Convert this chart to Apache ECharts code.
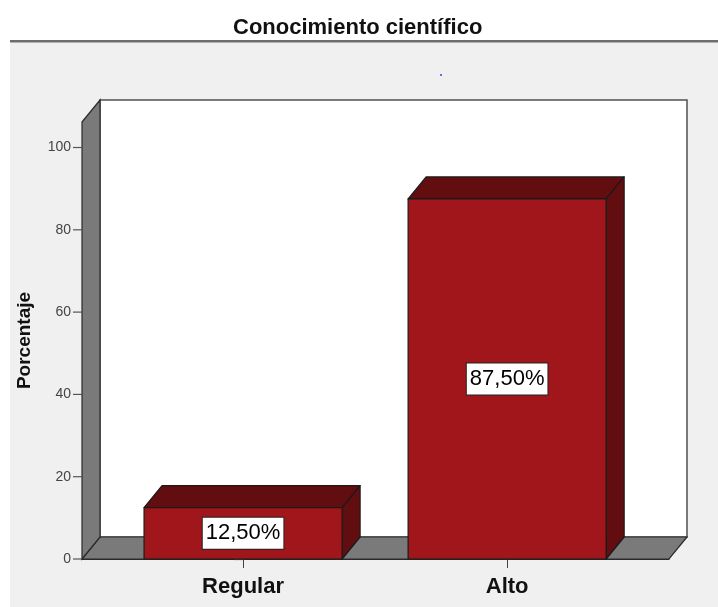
<!DOCTYPE html>
<html>
<head>
<meta charset="utf-8">
<script src="https://cdn.jsdelivr.net/npm/echarts@6/dist/echarts.min.js"></script>
<style>
html,body{margin:0;padding:0;background:#fff;}
#c{width:718px;height:607px;}
</style>
</head>
<body>
<div id="c"></div>
<script>
const categories = ['Regular', 'Alto'];
const percentValues = [12.5, 87.5];
const yTicks = [0, 20, 40, 60, 80, 100];
const titleText = 'Conocimiento científico';
const yAxisTitle = 'Porcentaje';

const DX = 18, DY = -22;      // 3D depth offset (px)
const HW = 0.375;             // bar half width in category units
const XMIN = -0.61, XMAX = 1.613, YMAX = 106.2;
const TICK_LEN = 9;

const chart = echarts.init(document.getElementById('c'));

const fmt = v => v.toFixed(2).replace('.', ',') + '%';

const option = {
  backgroundColor: '#ffffff',
  animation: false,
  title: {
    text: titleText,
    left: 228, top: 12,
    textStyle: { fontFamily: 'Arial, Liberation Sans', fontSize: 22, fontWeight: 'bold', color: '#111' }
  },
  graphic: [
    { type: 'rect', shape: { x: 10, y: 41, width: 708, height: 566 }, style: { fill: '#f0f0f0' }, z: -10 },
    { type: 'line', shape: { x1: 10, y1: 41, x2: 718, y2: 41 }, style: { stroke: '#6e6e6e', lineWidth: 2 }, z: -9 },
    { type: 'line', shape: { x1: 10, y1: 42.5, x2: 718, y2: 42.5 }, style: { stroke: '#b0b0b0', lineWidth: 1 }, z: -9 },
    { type: 'circle', shape: { cx: 441, cy: 75, r: 1 }, style: { fill: '#3040ff' }, z: -8 }
  ],
  grid: { left: 82, right: 49, top: 122, bottom: 48 },
  xAxis: {
    type: 'value', min: XMIN, max: XMAX,
    splitLine: { show: false },
    axisLine: { show: true, lineStyle: { color: '#2a2a2a', width: 1.2 } },
    axisTick: { show: true, customValues: [0, 1], length: TICK_LEN, lineStyle: { color: '#444', width: 1 } },
    axisLabel: {
      customValues: [0, 1],
      formatter: v => categories[Math.round(v)],
      margin: 17,
      fontFamily: 'Arial, Liberation Sans', fontSize: 22, fontWeight: 'bold', color: '#111'
    }
  },
  yAxis: {
    type: 'value', min: 0, max: YMAX,
    name: yAxisTitle, nameLocation: 'middle', nameRotate: 90, nameGap: 48,
    nameTextStyle: { fontFamily: 'Arial, Liberation Sans', fontSize: 19, fontWeight: 'bold', color: '#111' },
    splitLine: { show: false },
    axisLine: { show: true, lineStyle: { color: '#2a2a2a', width: 1.2 } },
    axisTick: { show: true, customValues: yTicks, length: TICK_LEN, lineStyle: { color: '#555', width: 1.2 } },
    axisLabel: {
      customValues: yTicks, margin: 11,
      fontFamily: 'Arial, Liberation Sans', fontSize: 14, color: '#444'
    }
  },
  series: [
    {
      type: 'custom', z: 1, silent: true, clip: false,
      data: [[0]],
      renderItem: function (params, api) {
        const bl = api.coord([XMIN, 0]);
        const br = api.coord([XMAX, 0]);
        const tl = api.coord([XMIN, YMAX]);
        const tr = api.coord([XMAX, YMAX]);
        const ticks = yTicks.map(t => {
          const p = api.coord([XMIN, t]);
          return { type: 'line', shape: { x1: p[0] - TICK_LEN, y1: p[1], x2: p[0], y2: p[1] },
                   style: { stroke: '#555', lineWidth: 1.2 } };
        });
        return {
          type: 'group',
          children: [
            { type: 'rect', shape: { x: tl[0] + DX, y: tl[1] + DY, width: tr[0] - tl[0], height: bl[1] - tl[1] },
              style: { fill: '#ffffff', stroke: '#505050', lineWidth: 1.5 } },
            { type: 'polygon', shape: { points: [[bl[0], bl[1]], [bl[0] + DX, bl[1] + DY], [br[0] + DX, br[1] + DY], [br[0], br[1]]] },
              style: { fill: '#7a7a7a', stroke: '#2a2a2a', lineWidth: 1.2 } },
            { type: 'polygon', shape: { points: [[tl[0], tl[1]], [tl[0] + DX, tl[1] + DY], [bl[0] + DX, bl[1] + DY], [bl[0], bl[1]]] },
              style: { fill: '#7a7a7a', stroke: '#2a2a2a', lineWidth: 1.2 } }
          ].concat(ticks)
        };
      }
    },
    {
      type: 'custom', z: 2, silent: true, clip: false,
      data: percentValues.map((v, i) => [i, v]),
      renderItem: function (params, api) {
        const x = api.value(0), v = api.value(1);
        const tl = api.coord([x - HW, v]);
        const br = api.coord([x + HW, 0]);
        const w = br[0] - tl[0], h = br[1] - tl[1];
        const edge = { stroke: '#1a1a1a', lineWidth: 1.2, lineJoin: 'round' };
        return {
          type: 'group',
          children: [
            { type: 'polygon', shape: { points: [[tl[0], tl[1]], [tl[0] + DX, tl[1] + DY], [br[0] + DX, tl[1] + DY], [br[0], tl[1]]] },
              style: Object.assign({ fill: '#620d0f' }, edge) },
            { type: 'polygon', shape: { points: [[br[0], tl[1]], [br[0] + DX, tl[1] + DY], [br[0] + DX, br[1] + DY], [br[0], br[1]]] },
              style: Object.assign({ fill: '#620d0f' }, edge) },
            { type: 'rect', shape: { x: tl[0], y: tl[1], width: w, height: h },
              style: Object.assign({ fill: '#a0161a' }, edge) },
            { type: 'text', x: tl[0] + w / 2, y: tl[1] + h / 2,
              style: {
                text: fmt(v), align: 'center', verticalAlign: 'middle',
                font: '22px Arial, "Liberation Sans"', fill: '#000',
                backgroundColor: '#ffffff', borderColor: '#222', borderWidth: 1,
                padding: [5, 3, 4, 3]
              } }
          ]
        };
      }
    }
  ]
};
chart.setOption(option);
</script>
</body>
</html>
